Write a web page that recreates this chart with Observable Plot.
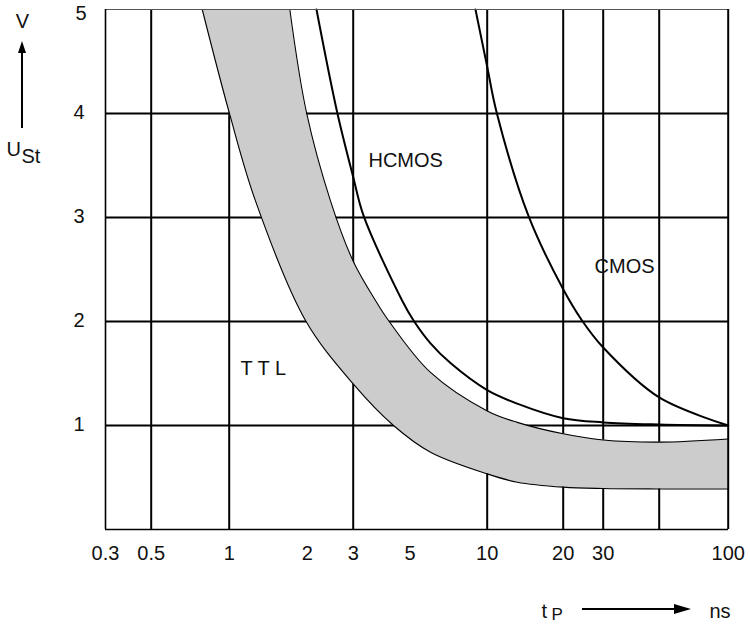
<!DOCTYPE html>
<html>
<head>
<meta charset="utf-8">
<script src="https://cdn.jsdelivr.net/npm/d3@7"></script>
<script src="https://cdn.jsdelivr.net/npm/@observablehq/plot@0.6"></script>
<style>
  html, body { margin: 0; padding: 0; background: #fff; }
  #chart svg { display: block; }
</style>
</head>
<body>
<div id="chart"></div>
<script>
// ---- data ----
// x: pulse duration t_P in ns (log axis), y: interference voltage U_St in V
const xBreaks = [0.3, 0.5, 1, 3, 10, 20, 30, 50, 100];      // gridline values of the (uneven) log axis
const xGrid = [0.5, 1, 3, 10, 20, 30, 50];
const yGrid = [1, 2, 3, 4];
const xTickLabels = [0.3, 0.5, 1, 2, 3, 5, 10, 20, 30, 100];
const yTickLabels = [1, 2, 3, 4];
const yTopLabel = [5];

// TTL band: lower-left boundary and upper-right boundary
const ttlLowT  = [0.787, 1.0, 1.262, 1.966, 3.0, 4.31, 6.01, 10, 13.15, 20, 30, 50, 100];
const ttlLowV  = [5.0, 4.01, 3.16, 2.01, 1.40, 1.00, 0.743, 0.535, 0.455, 0.407, 0.394, 0.39, 0.39];
const ttlHighT = [1.711, 1.983, 2.453, 3.0, 3.67, 4.12, 6.01, 10, 13.15, 20, 30, 50.6, 100];
const ttlHighV = [5.0, 4.01, 3.16, 2.58, 2.20, 2.01, 1.51, 1.14, 1.03, 0.92, 0.86, 0.84, 0.87];

// HCMOS curve
const hcmosT = [2.167, 2.604, 3.0, 3.30, 4.66, 5.16, 6.01, 7.19, 10, 13.15, 20, 30, 50, 100];
const hcmosV = [5.0, 4.01, 3.39, 3.01, 2.20, 2.01, 1.79, 1.60, 1.34, 1.21, 1.07, 1.03, 1.01, 1.0];

// CMOS curve
const cmosT = [9.0, 10, 10.9, 14.6, 20, 24.2, 30, 50, 100];
const cmosV = [5.0, 4.45, 4.01, 3.01, 2.31, 2.01, 1.75, 1.27, 1.0];

// labels
const curveLabels = [
  {t: 1.105, v: 1.55, text: "T T L"},
  {t: 3.44, v: 3.55, text: "HCMOS"},
  {t: 27.5, v: 2.53, text: "CMOS"}
];

// ---- chart ----
const W = 750, H = 624;
const xRange = [105, 150.7, 228.7, 352.7, 486.7, 562.7, 602.7, 658.7, 727.7];
const font = "'Liberation Sans', Arial, Helvetica, sans-serif";
const ink = "#111";

const idx = d3.range(ttlLowT.length);
const toPts = (ts, vs) => ts.map((t, i) => ({t, v: vs[i]}));
const crv = "catmull-rom";
const txt = (s, dx, dy, anchor = "start", size = 20) =>
  Plot.text([s], {frameAnchor: "top-left", dx, dy, text: d => d, textAnchor: anchor,
                  lineAnchor: "middle", fontSize: size, fill: ink});

const chart = Plot.plot({
  width: W,
  height: H,
  marginTop: 9,
  marginBottom: 95,
  marginLeft: 105,
  marginRight: 22,
  style: {fontFamily: font, fontSize: "20px", color: "#000", background: "#fff"},
  x: {type: "log", domain: xBreaks, range: xRange, axis: null, label: null},
  y: {domain: [0, 5], axis: null, label: null},
  marks: [
    // grid
    Plot.ruleX(xGrid, {stroke: "#000", strokeWidth: 2}),
    Plot.ruleY(yGrid, {stroke: "#000", strokeWidth: 2}),
    // TTL band
    Plot.area(idx, {
      x1: i => ttlLowT[i], y1: i => ttlLowV[i],
      x2: i => ttlHighT[i], y2: i => ttlHighV[i],
      fill: "#cccccc", curve: crv
    }),
    Plot.line(toPts(ttlLowT, ttlLowV), {x: "t", y: "v", stroke: "#000", strokeWidth: 1.1, curve: crv}),
    Plot.line(toPts(ttlHighT, ttlHighV), {x: "t", y: "v", stroke: "#000", strokeWidth: 1.1, curve: crv}),
    // HCMOS and CMOS
    Plot.line(toPts(hcmosT, hcmosV), {x: "t", y: "v", stroke: "#000", strokeWidth: 2, curve: crv}),
    Plot.line(toPts(cmosT, cmosV), {x: "t", y: "v", stroke: "#000", strokeWidth: 2, curve: crv}),
    // frame
    Plot.ruleY([5], {stroke: "#555", strokeWidth: 1.2}),
    Plot.ruleX([100], {stroke: "#000", strokeWidth: 2}),
    Plot.ruleX([0.3], {stroke: "#000", strokeWidth: 1.6}),
    Plot.ruleY([0], {stroke: "#000", strokeWidth: 1.6}),
    // curve labels
    Plot.text(curveLabels, {x: "t", y: "v", text: "text", textAnchor: "start", lineAnchor: "middle", fontSize: 20, fill: ink}),
    // tick labels
    Plot.text(xTickLabels, {x: d => d, frameAnchor: "bottom", dy: 24, lineAnchor: "middle",
                            text: d => String(d), textAnchor: "middle", fontSize: 20, fill: ink}),
    Plot.text(yTickLabels, {y: d => d, frameAnchor: "left", dx: -21, dy: -1, lineAnchor: "middle",
                            text: d => String(d), textAnchor: "end", fontSize: 20, fill: ink}),
    Plot.text(yTopLabel, {y: d => d, frameAnchor: "left", dx: -19, dy: 4.5, lineAnchor: "middle",
                          text: d => String(d), textAnchor: "end", fontSize: 20, fill: ink}),
    // axis titles (outside the frame)
    txt("V", -83, 12, "middle"),
    txt("U", -99, 140),
    txt("St", -84, 147),
    txt("t", 436, 602),
    txt("P", 446, 605, "start", 17),
    txt("ns", 604, 602)
  ]
});

// axis arrows
const svg = d3.select(chart);
const g = svg.append("g").attr("fill", "#000").attr("stroke", "#000");
g.append("line").attr("x1", 22).attr("y1", 128).attr("x2", 22).attr("y2", 50).attr("stroke-width", 2);
g.append("polygon").attr("points", "22,41 18,53 26,53").attr("stroke", "none");
g.append("line").attr("x1", 582).attr("y1", 609).attr("x2", 676).attr("y2", 609).attr("stroke-width", 2);
g.append("polygon").attr("points", "691,609 674,604 674,614").attr("stroke", "none");

document.getElementById("chart").appendChild(chart);
</script>
</body>
</html>
